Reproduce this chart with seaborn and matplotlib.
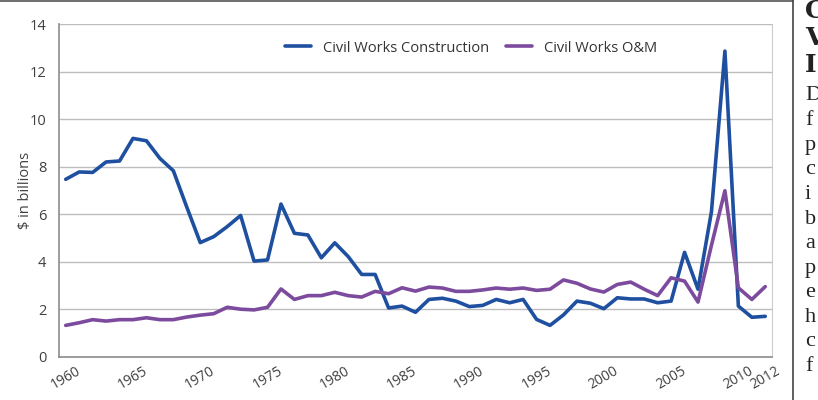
import pandas as pd
import seaborn as sns
import matplotlib.pyplot as plt
from matplotlib.lines import Line2D

# --- Daten ---
years = list(range(1960, 2013))
construction = [7.47, 7.78, 7.76, 8.20, 8.24, 9.19, 9.09, 8.35, 7.83, 6.30,
                4.81, 5.06, 5.48, 5.95, 4.03, 4.08, 6.43, 5.20, 5.13, 4.17,
                4.80, 4.22, 3.47, 3.47, 2.06, 2.14, 1.88, 2.42, 2.47, 2.35,
                2.12, 2.17, 2.42, 2.28, 2.42, 1.58, 1.33, 1.77, 2.35, 2.26,
                2.03, 2.49, 2.44, 2.44, 2.28, 2.35, 4.40, 2.85, 6.11, 12.86,
                2.14, 1.67, 1.71]
om = [1.33, 1.44, 1.57, 1.51, 1.57, 1.57, 1.65, 1.57, 1.57, 1.68,
      1.76, 1.82, 2.09, 2.01, 1.98, 2.09, 2.86, 2.42, 2.58, 2.58,
      2.72, 2.58, 2.52, 2.76, 2.66, 2.91, 2.77, 2.94, 2.90, 2.76,
      2.76, 2.82, 2.90, 2.85, 2.90, 2.80, 2.85, 3.24, 3.10, 2.86,
      2.73, 3.05, 3.15, 2.85, 2.58, 3.33, 3.19, 2.31, 4.70, 6.99,
      2.91, 2.42, 2.96]
series_names = ["Civil Works Construction", "Civil Works O&M"]
tick_years = [1960, 1965, 1970, 1975, 1980, 1985, 1990, 1995, 2000, 2005, 2010, 2012]
# vom Seitenrand abgeschnittener Text: nur die ersten Buchstaben sichtbar
sidebar_head = ["C", "V", "I"]
sidebar_body = ["D", "f", "p", "c", "i", "b", "a", "p", "e", "h", "c", "f"]

df = pd.DataFrame({
    "Year": years * 2,
    "Value": construction + om,
    "Series": [series_names[0]] * len(years) + [series_names[1]] * len(years),
})

sns.set_style("white")
plt.rcParams['font.family'] = ['Open Sans', 'DejaVu Sans']

fig = plt.figure(figsize=(8.18, 4.0), dpi=100)
ax = fig.add_axes([59 / 818, 43 / 400, (772 - 59) / 818, (357 - 24) / 400])

palette = {series_names[0]: "#1f50a0", series_names[1]: "#7d4b9e"}
sns.lineplot(data=df, x="Year", y="Value", hue="Series", palette=palette,
             linewidth=2.6, ax=ax, legend=False)

ax.set_xlim(1959.5, 2012.5)
ax.set_ylim(0, 14)
ax.set_yticks(range(0, 15, 2))
ax.yaxis.grid(True, color="#bdbdbd", linewidth=1)
ax.set_axisbelow(True)

ax.set_xticks(tick_years)
ax.set_xticklabels([str(y) for y in tick_years], rotation=30, fontsize=10, color="#404040")
ax.set_xticks([y + 0.5 for y in range(1959, 2013)], minor=True)
ax.tick_params(axis='x', which='major', length=0, pad=5)
ax.tick_params(axis='x', which='minor', length=4, color="#999999", width=1, direction='out')
ax.tick_params(axis='y', length=0, pad=9, labelsize=10.5, labelcolor="#404040")

ax.set_xlabel("")
ax.set_ylabel("$ in billions", fontsize=10.5, color="#404040")
ax.yaxis.set_label_coords(-0.036, 0.5)

for side in ["left", "bottom"]:
    ax.spines[side].set_color("#8c8c8c")
    ax.spines[side].set_linewidth(1.2)
ax.spines["right"].set_color("#cccccc")
ax.spines["top"].set_visible(False)

handles = [Line2D([], [], color=palette[n], linewidth=2.6) for n in series_names]
fig.legend(handles, series_names, loc="center", bbox_to_anchor=(471 / 818, 1 - 48 / 400),
           ncol=2, frameon=False, fontsize=10.5, handlelength=1.8, handletextpad=0.8,
           columnspacing=1.2, labelcolor="#333333")

# Rahmen ums Diagramm
fig.add_artist(Line2D([0, 793 / 818], [0.998, 0.998], color="#555555", linewidth=1.2))
fig.add_artist(Line2D([793 / 818, 793 / 818], [0, 1], color="#444444", linewidth=1.2))

# Text der Nachbarspalte rechts
for i, w in enumerate(sidebar_head):
    fig.text(805 / 818, 1 - (11 + 27 * i) / 400, w, fontsize=18, fontweight='bold',
             family='DejaVu Serif', va='center', ha='left', color="#222222")
for i, w in enumerate(sidebar_body):
    fig.text(805 / 818, 1 - (96 + 24.6 * i) / 400, w, fontsize=16,
             family='Liberation Serif', va='center', ha='left', color="#222222")

fig.savefig("out.png", dpi=100)
